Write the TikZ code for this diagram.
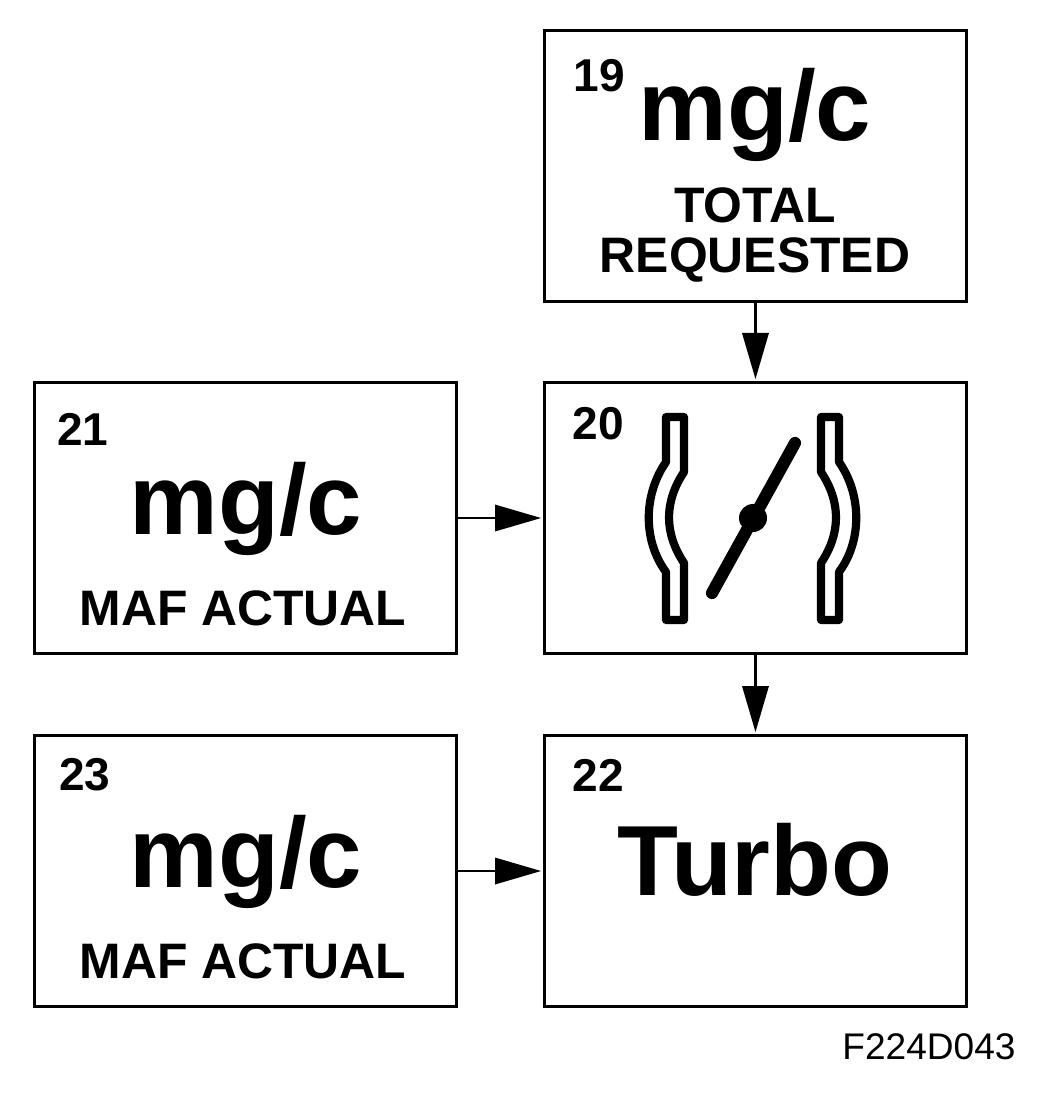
\documentclass[tikz,border=0pt]{standalone}
\usepackage{fontspec}
\setmainfont{Liberation Sans}
\usetikzlibrary{calc, positioning, arrows.meta}
\tikzset{
  blockbox/.style={draw, line width=2.4pt, minimum width=11.6cm, minimum height=7.45cm, inner sep=0pt, anchor=north west},
  numlab/.style={font=\bfseries\fontsize{36}{36}\selectfont},
  biglab/.style={font=\bfseries\fontsize{78}{78}\selectfont},
  sublab/.style={font=\bfseries\fontsize{39}{39.5}\selectfont, align=center},
  flowarrow/.style={line width=2.2pt, shorten >=.05cm, -{Triangle[length=1.27cm, width=.72cm]}},
  valvewall/.style={line width=6.4pt, line join=round},
}
\begin{document}
\begin{tikzpicture}[x=.0275cm, y=-.0275cm]
  \useasboundingbox (0,0) rectangle (1042,1114);
  % boxes
  \node[blockbox] (total) at (543,29) {};
  \node[blockbox] (valve) at (543,381) {};
  \node[blockbox] (mafa) at (33,381) {};
  \node[blockbox] (turbo) at (543,734) {};
  \node[blockbox] (mafb) at (33,734) {};
  % top box
  \node[numlab] (n19) at (599,76) {19};
  \node[biglab] (t19) at (755,115) {mg/c};
  \node[sublab] (s19) at (755,235) {TOTAL\\REQUESTED};
  % left boxes
  \node[numlab] (n21) at (83,429) {21};
  \node[biglab] (t21) at (246,509) {mg/c};
  \node[sublab] (s21) at (243,608) {MAF ACTUAL};
  \node[numlab] (n23) at (85,775) {23};
  \node[biglab] (t23) at (246,862) {mg/c};
  \node[sublab] (s23) at (243,961) {MAF ACTUAL};
  % right boxes
  \node[numlab] (n20) at (598,424) {20};
  \node[numlab] (n22) at (598,775) {22};
  \node[biglab] (t22) at (755,860) {Turbo};
  \node[font=\fontsize{29}{29}\selectfont] (code) at (929,1047) {F224D043};
  % throttle plate
  \draw[valvewall] (666,417) -- (684,417) -- (684,472)
    .. controls (664,502) and (664,533) .. (684,563) -- (684,620) -- (666,620) -- (666,572)
    .. controls (643,541) and (643,495) .. (666,462) -- cycle;
  \draw[valvewall] (839,417) -- (821,417) -- (821,472)
    .. controls (841,502) and (841,533) .. (821,563) -- (821,620) -- (839,620) -- (839,572)
    .. controls (862,541) and (862,495) .. (839,462) -- cycle;
  \coordinate (platea) at (712,593);
  \coordinate (plateb) at (795,443);
  \draw[line width=9.5pt, line cap=round] (platea) -- (plateb);
  \fill (753,518) circle (.385cm);
  % arrows
  \draw[flowarrow] (total.south) -- (valve.north);
  \draw[flowarrow] (valve.south) -- (turbo.north);
  \draw[flowarrow] (mafa.east) -- (valve.west);
  \draw[flowarrow] (mafb.east) -- (turbo.west);
\end{tikzpicture}
\end{document}
